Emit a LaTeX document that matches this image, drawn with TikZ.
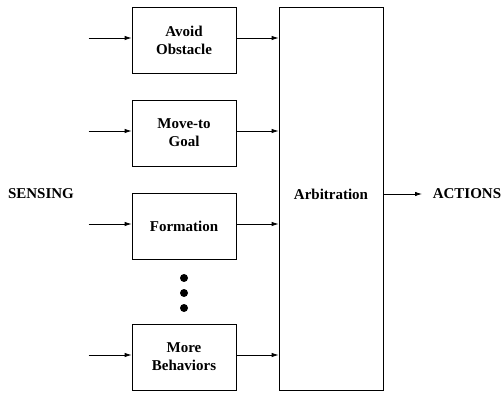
\documentclass[tikz,border=0pt]{standalone}
\usepackage{fontspec}
\setmainfont{Liberation Serif}
\usetikzlibrary{arrows.meta}
\begin{document}
\begin{tikzpicture}[x=1pt, y=-1pt, >={Latex[length=7pt, width=4.5pt]}, line width=0.8pt,
    behavior/.style={rectangle, draw=black, minimum width=104pt, minimum height=66pt, inner sep=0pt, align=center, font=\bfseries\fontsize{15}{18}\selectfont},
    signal/.style={font=\bfseries\fontsize{15}{18}\selectfont}]
    \useasboundingbox (0, 0) rectangle (504, 393);

    \node[behavior] (avoid) at (184, 40) {Avoid\\Obstacle};
    \node[behavior] (goal) at (184, 133) {Move-to\\Goal};
    \node[behavior] (formation) at (184, 226) {Formation};
    \node[behavior] (more) at (184, 357) {More\\Behaviors};

    \fill (184, 278) circle (4pt);
    \fill (184, 293) circle (4pt);
    \fill (184, 308) circle (4pt);

    \node[behavior, minimum height=383pt] (arb) at (331, 198.5) {};
    \node[signal] (arb-text) at (331, 194) {Arbitration};

    \node[signal] (sensing) at (41, 194) {SENSING};
    \node[signal] (actions) at (467, 194) {ACTIONS};

    \foreach \b in {avoid, goal, formation, more} {
        \coordinate (in-\b) at ([xshift=-43pt, yshift=2pt]\b.west);
        \draw[->] (in-\b) -- (in-\b -| \b.west);
        \draw[->] ([yshift=2pt]\b.east) -- ([yshift=2pt]\b.east -| arb.west);
    }

    \coordinate (out) at (422, 194);
    \draw[->] (arb.east |- out) -- (out);
\end{tikzpicture}
\end{document}
